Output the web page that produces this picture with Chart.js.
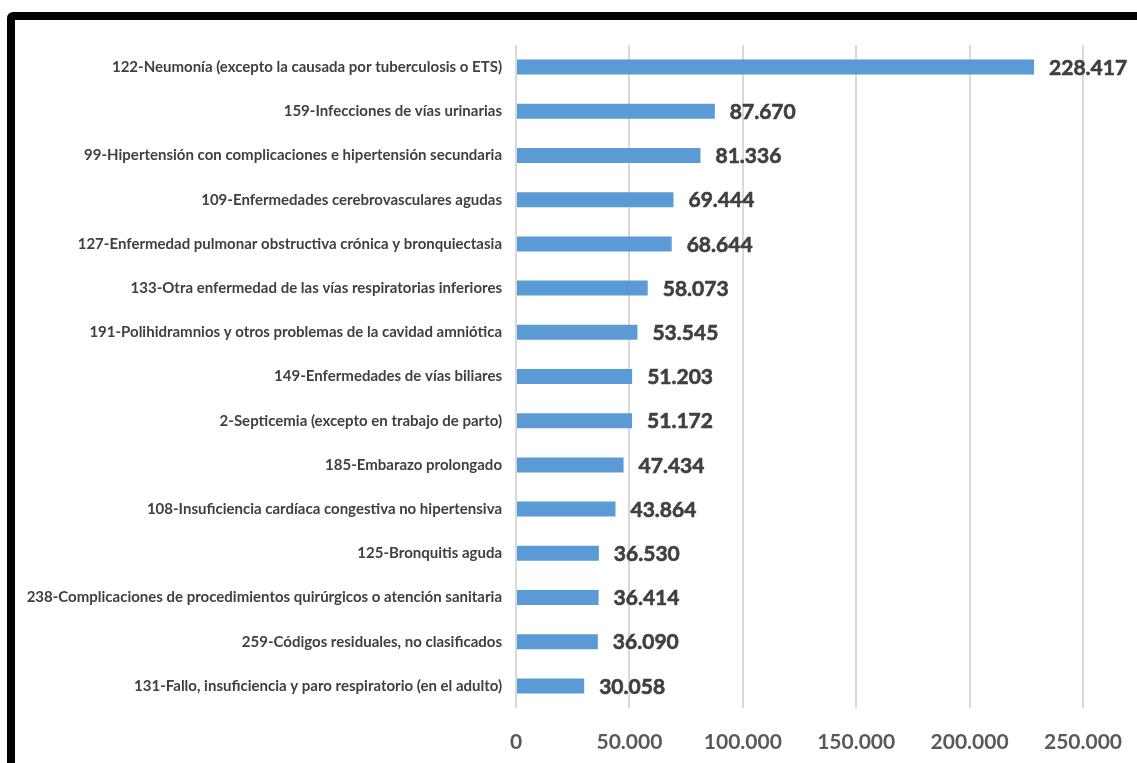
<!DOCTYPE html>
<html>
<head>
<meta charset="utf-8">
<script src="https://cdn.jsdelivr.net/npm/chart.js@4"></script>
<style>
  html, body { margin: 0; padding: 0; background: #fff; }
  #wrap { position: relative; width: 1137px; height: 763px; overflow: hidden; }
  #frame {
    position: absolute; left: 7px; top: 12px; width: 1200px; height: 800px;
    border: 8px solid #000; border-radius: 6px; box-sizing: border-box; pointer-events: none;
  }
  canvas { position: absolute; left: 0; top: 0; }
</style>
</head>
<body>
<div id="wrap">
  <canvas id="c" width="1137" height="763"></canvas>
  <div id="frame"></div>
</div>
<script>
// categories (top to bottom) and their values
const categories = [
  '122-Neumonía (excepto la causada por tuberculosis o ETS)',
  '159-Infecciones de vías urinarias',
  '99-Hipertensión con complicaciones e hipertensión secundaria',
  '109-Enfermedades cerebrovasculares agudas',
  '127-Enfermedad pulmonar obstructiva crónica y bronquiectasia',
  '133-Otra enfermedad de las vías respiratorias inferiores',
  '191-Polihidramnios y otros problemas de la cavidad amniótica',
  '149-Enfermedades de vías biliares',
  '2-Septicemia (excepto en trabajo de parto)',
  '185-Embarazo prolongado',
  '108-Insuficiencia cardíaca congestiva no hipertensiva',
  '125-Bronquitis aguda',
  '238-Complicaciones de procedimientos quirúrgicos o atención sanitaria',
  '259-Códigos residuales, no clasificados',
  '131-Fallo, insuficiencia y paro respiratorio (en el adulto)',
];
const values = [228417, 87670, 81336, 69444, 68644, 58073, 53545, 51203, 51172, 47434, 43864, 36530, 36414, 36090, 30058];
const xTicks = [0, 50000, 100000, 150000, 200000, 250000];

// thousands separator is a dot
const fmt = (v) => String(Math.round(v)).replace(/\B(?=(\d{3})+(?!\d))/g, '.');

const FONT = 'Lato, "Open Sans", sans-serif';

/* value labels past the bar tip */
const valueLabels = {
  id: 'valueLabels',
  afterDatasetsDraw(chart) {
    const { ctx } = chart;
    const meta = chart.getDatasetMeta(0);
    ctx.save();
    ctx.font = `bold 21px ${FONT}`;
    ctx.fillStyle = '#404040';
    ctx.strokeStyle = '#404040';
    ctx.lineWidth = 0.6;
    ctx.textAlign = 'left';
    ctx.textBaseline = 'middle';
    meta.data.forEach((bar, i) => {
      ctx.fillText(fmt(values[i]), bar.x + 15, bar.y + 1);
      ctx.strokeText(fmt(values[i]), bar.x + 15, bar.y + 1);
    });
    ctx.restore();
  },
};

new Chart(document.getElementById('c'), {
  type: 'bar',
  data: {
    labels: categories,
    datasets: [{
      data: values,
      backgroundColor: '#5B9BD5',
      borderWidth: 0,
      categoryPercentage: 1,
      barPercentage: 0.34,
    }],
  },
  options: {
    indexAxis: 'y',
    responsive: false,
    animation: false,
    layout: { padding: { top: 45, right: 54, left: 0, bottom: 0 } },
    plugins: { legend: { display: false }, tooltip: { enabled: false } },
    scales: {
      x: {
        min: 0,
        max: 250000,
        afterBuildTicks(scale) { scale.ticks = xTicks.map((v) => ({ value: v })); },
        afterFit(scale) {
          scale.height = 55;
          // tick labels may overhang the plot; the layout padding handles the room
          scale.paddingLeft = 0;
          scale.paddingRight = 0;
        },
        border: { display: false },
        grid: { color: '#d9d9d9', lineWidth: 2, drawTicks: false },
        ticks: {
          padding: 22,
          color: '#595959',
          font: { family: FONT, size: 21, weight: 'bold' },
          callback: (v) => fmt(v),
        },
      },
      y: {
        afterFit(scale) { scale.width = 516; },
        border: { display: false },
        grid: { display: false, drawTicks: false },
        ticks: {
          padding: 14,
          autoSkip: false,
          color: '#404040',
          font: { family: FONT, size: 15, weight: 'bold' },
        },
      },
    },
  },
  plugins: [valueLabels],
});
</script>
</body>
</html>
